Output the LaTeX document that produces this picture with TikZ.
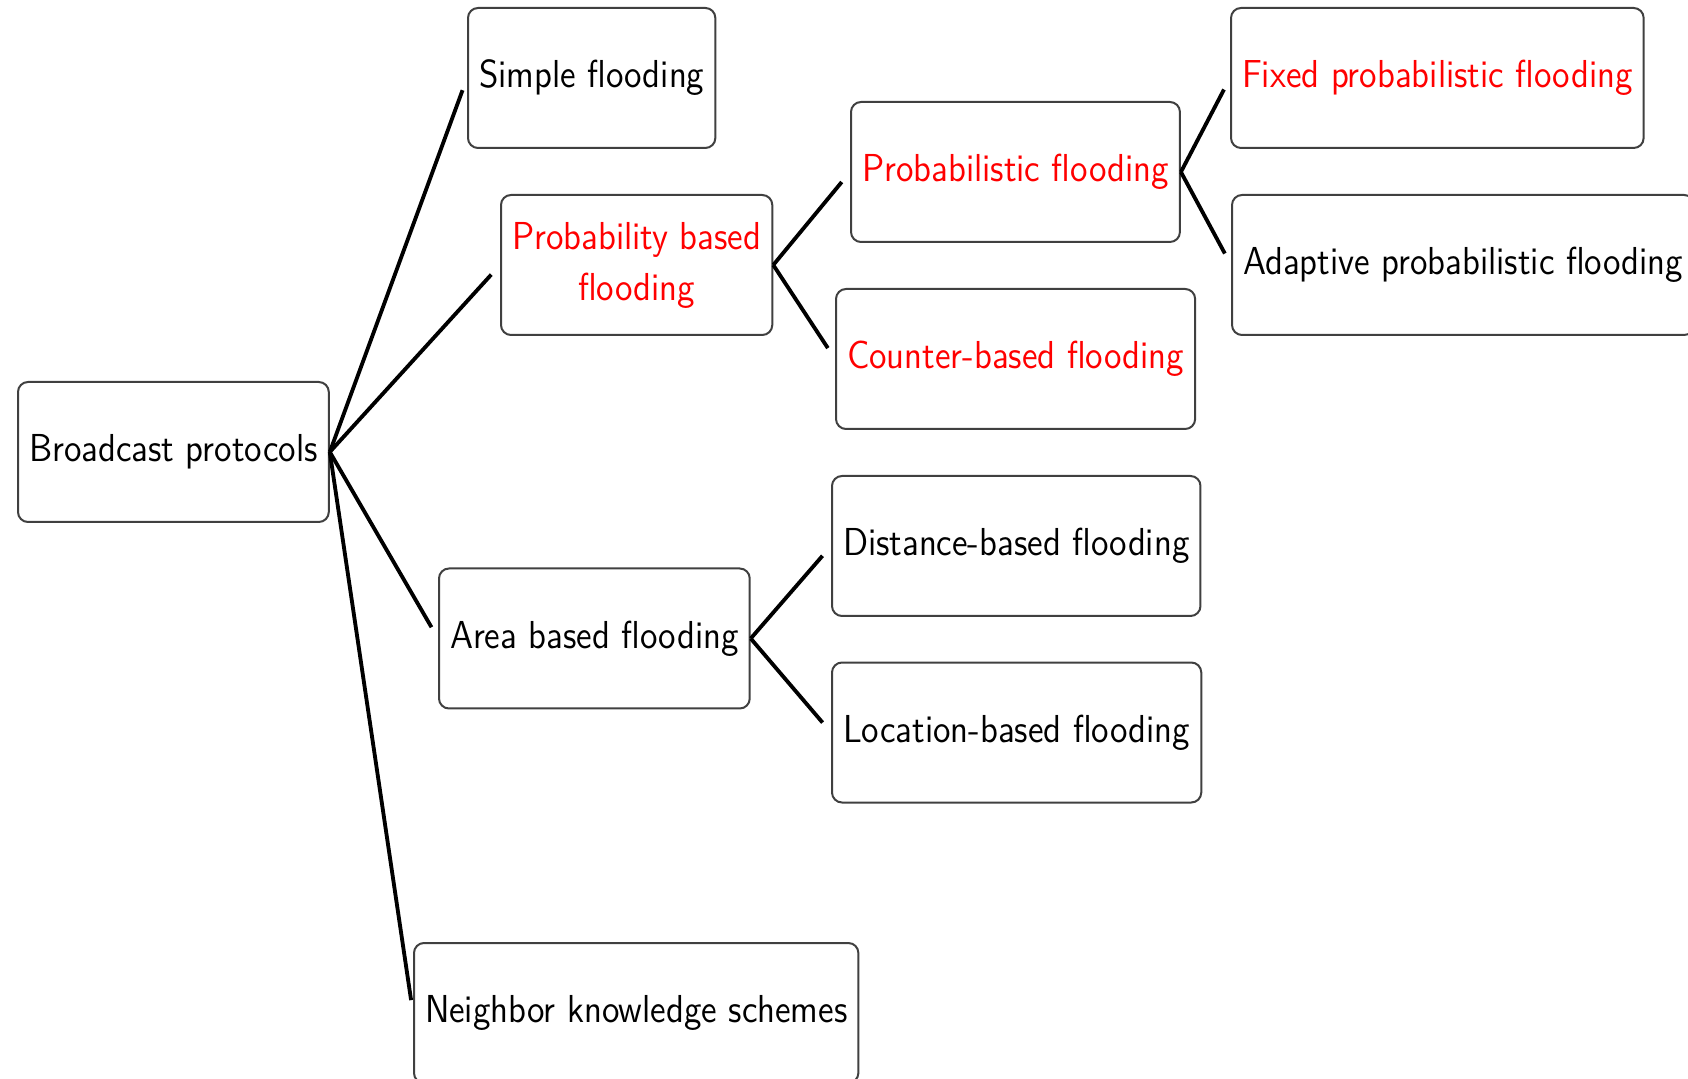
\documentclass[tikz,border=0pt]{standalone}
\usepackage{tikz}
\usepackage{graphicx}
% the labels are set in a slightly narrowed sans face
\newcommand\narrowtext[1]{\scalebox{0.914}[1]{#1}}
\begin{document}
\begin{tikzpicture}[x=0.3pt,y=-0.3pt,
  box/.style={draw=black!75, line width=0.6pt, rounded corners=3pt, fill=white,
    minimum height=42pt, inner xsep=3.3pt, anchor=west,
    font=\sffamily\fontsize{11.7}{15.3}\selectfont},
  hot/.style={box, text=red},
  edge/.style={line width=1.15pt, black, shorten >=3.9pt}]
\useasboundingbox (0,0) rectangle (1688,1079);
\clip (0,0) rectangle (1688,1079);

% root
\node[box] (bp) at (17,452) {\narrowtext{Broadcast protocols}};

% first level
\node[box] (sf)  at (467,78)    {\narrowtext{Simple flooding}};
\node[hot] (pbf) at (500,265)   {\narrowtext{\begin{tabular}{@{}c@{}}Probability based\\flooding\end{tabular}}};
\node[box] (abf) at (438,638.5) {\narrowtext{Area based flooding}};
\node[box] (nks) at (413,1013)  {\narrowtext{Neighbor knowledge schemes}};

% second level
\node[hot] (pf)  at (850,172)   {\narrowtext{Probabilistic flooding}};
\node[hot] (cbf) at (835,359)   {\narrowtext{Counter-based flooding}};
\node[box] (dbf) at (831,546)   {\narrowtext{Distance-based flooding}};
\node[box] (lbf) at (831,732.5) {\narrowtext{Location-based flooding}};

% third level
\node[hot] (fpf) at (1230,78)  {\narrowtext{Fixed probabilistic flooding}};
\node[box] (apf) at (1231,265) {\narrowtext{Adaptive probabilistic flooding}};

% connectors
\foreach \c in {sf,pbf,abf,nks} \draw[edge] (bp.east) -- (\c.west);
\foreach \c in {pf,cbf} \draw[edge] (pbf.east) -- (\c.west);
\foreach \c in {dbf,lbf} \draw[edge] (abf.east) -- (\c.west);
\foreach \c in {fpf,apf} \draw[edge] (pf.east) -- (\c.west);
\end{tikzpicture}
\end{document}
